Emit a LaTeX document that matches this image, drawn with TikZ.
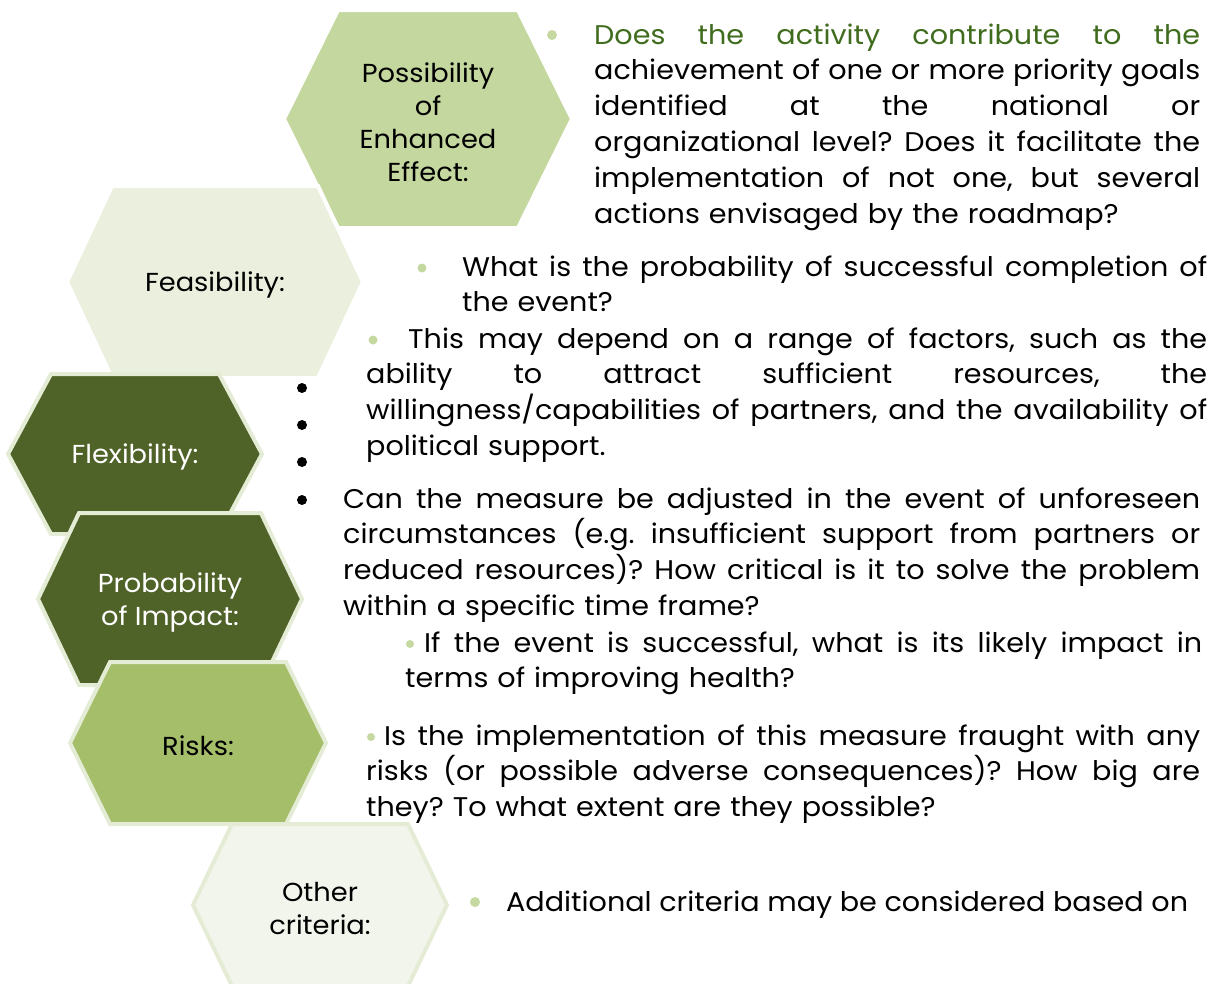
\documentclass[tikz,border=0pt]{standalone}
\usepackage{fontspec}
\setmainfont{Poppins}
\newfontfamily\bodyfont[FakeStretch=1.06]{Poppins}
\newfontfamily\labelfont[FakeStretch=1.05]{Poppins}

\definecolor{enhfill}{HTML}{C4D79F}
\definecolor{feasfill}{HTML}{EBF0DE}
\definecolor{darkfill}{HTML}{4F6228}
\definecolor{riskfill}{HTML}{A5BE6A}
\definecolor{otherfill}{HTML}{F2F5EC}
\definecolor{rim}{HTML}{E5ECD6}
\definecolor{dotgreen}{HTML}{C5D8A0}
\definecolor{leadgreen}{RGB}{64,108,30}

% one justified line, spread to the full text width
\newcommand{\fillline}[1]{\leavevmode\hbox to\hsize{\spaceskip=0pt\xspaceskip=0pt #1}}

\tikzset{
  hexlabel/.style={align=center, inner sep=0pt, font=\labelfont\fontsize{26}{33}\selectfont},
  answer/.style={anchor=base west, inner sep=0pt, align=left,
    font=\bodyfont\fontsize{27}{35.8}\selectfont\frenchspacing},
  dotmark/.style={circle, inner sep=0pt, minimum size=9pt, fill=dotgreen}
}

\begin{document}
\begin{tikzpicture}[x=1pt,y=-1pt]
  \useasboundingbox (0,0) rectangle (1217,983);
  \begin{scope}
    \clip (0,0) rectangle (1217,983);
    % centre x / centre y / half width / half height / slant / fill / rim / text colour / name / label
    \foreach \cx/\cy/\hw/\hh/\sl/\fc/\bc/\tc/\nm/\txt in {
      428/119/144/109/54/enhfill/white/black/enh/{Possibility\\of\\Enhanced\\Effect:},
      215/282/148/96/45/feasfill/white/black/feas/{Feasibility:},
      135/454/127/80/43/darkfill/rim/white/flex/{Flexibility:},
      170/599/132/86/41/darkfill/rim/white/prob/{Probability\\of Impact:},
      198/743/128/81/40/riskfill/rim/black/risk/{Risks:},
      320/905/127/81/39/otherfill/rim/black/other/{Other\\criteria:}} {
      \draw[fill=\fc, draw=\bc, line width=4pt] (\cx-\hw,\cy) -- (\cx-\hw+\sl,\cy-\hh)
        -- (\cx+\hw-\sl,\cy-\hh) -- (\cx+\hw,\cy) -- (\cx+\hw-\sl,\cy+\hh)
        -- (\cx-\hw+\sl,\cy+\hh) -- cycle;
      \node[hexlabel, text=\tc] (\nm) at (\cx,\cy+3) {\txt};
    }
  \end{scope}

  % bullets
  \node[dotmark, minimum size=10pt] (enhdot) at (552,35) {};
  \node[dotmark] (feasdot) at (422,268) {};
  \node[dotmark] (feasdot2) at (373,340) {};
  \foreach \y in {388,425,462,500}
    \node[dotmark, fill=black, minimum size=10pt] (flexdot\y) at (302,\y) {};
  \node[dotmark, minimum size=8pt] (probdot) at (410,644) {};
  \node[dotmark, minimum size=8pt] (riskdot) at (371,737) {};
  \node[dotmark, minimum size=10pt] (otherdot) at (475,902) {};

  % texts
  \node[answer, text width=606pt] (enhtext) at (594,44) {%
    \fillline{\color{leadgreen}Does the activity contribute to the}\\
    \fillline{achievement of one or more priority goals}\\
    \fillline{identified at the national or}\\
    \fillline{organizational level? Does it facilitate the}\\
    \fillline{implementation of not one, but several}\\
    actions envisaged by the roadmap?};
  \node[answer, text width=745pt] (feastext) at (462,276) {%
    \fillline{What is the probability of successful completion of}\\
    the event?};
  \node[answer, text width=841pt] (feastext2) at (366,348) {%
    \fillline{\hspace*{42pt}This may depend on a range of factors, such as the}\\
    \fillline{ability to attract sufficient resources, the}\\
    \fillline{willingness/capabilities of partners, and the availability of}\\
    political support.};
  \node[answer, text width=857pt] (flextext) at (343,508) {%
    \fillline{Can the measure be adjusted in the event of unforeseen}\\
    \fillline{circumstances (e.g. insufficient support from partners or}\\
    \fillline{reduced resources)? How critical is it to solve the problem}\\
    within a specific time frame?};
  \node[answer, text width=797pt] (probtext) at (405,652) {%
    \fillline{\hspace*{19pt}If the event is successful, what is its likely impact in}\\
    terms of improving health?};
  \node[answer, text width=834pt] (risktext) at (366,745) {%
    \fillline{\hspace*{18pt}Is the implementation of this measure fraught with any}\\
    \fillline{risks (or possible adverse consequences)? How big are}\\
    they? To what extent are they possible?};
  \node[answer] (othertext) at (506,911) {Additional criteria may be considered based on};
\end{tikzpicture}
\end{document}
